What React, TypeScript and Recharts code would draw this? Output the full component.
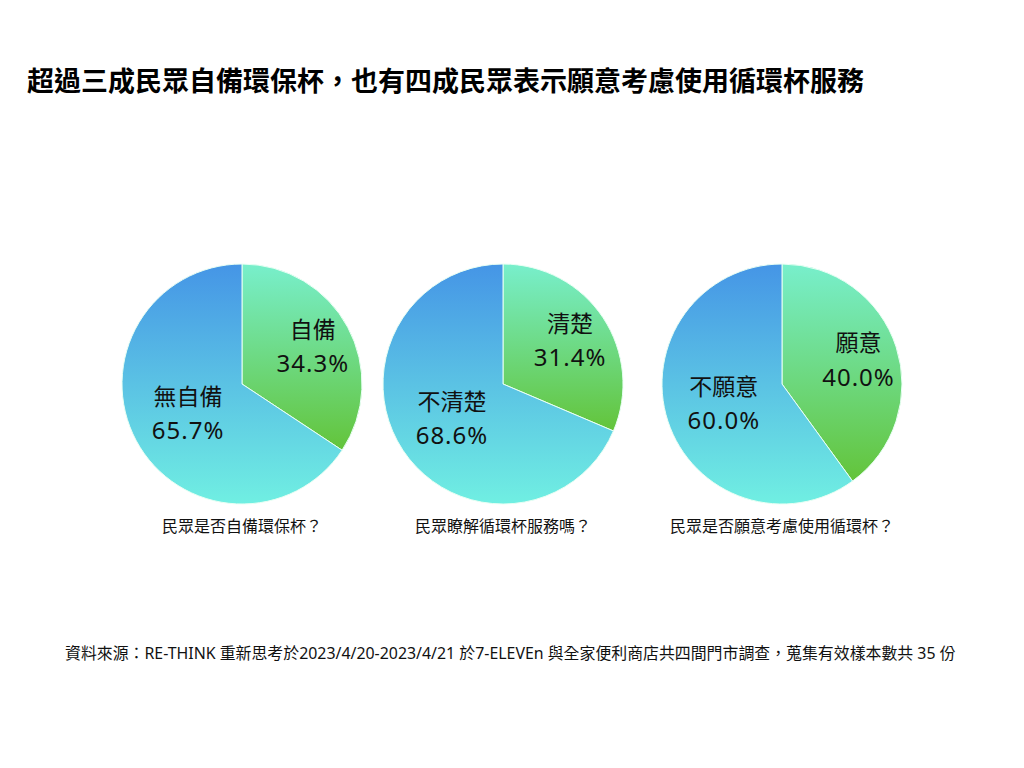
import React from 'react';
import { PieChart, Pie, Cell } from 'recharts';

const FONT = '"Noto Sans", "Noto Sans CJK TC", sans-serif';

const ownCupNames = ['自備', '無自備'];
const ownCupValues = [34.3, 65.7];

const knowNames = ['清楚', '不清楚'];
const knowValues = [31.4, 68.6];

const willingNames = ['願意', '不願意'];
const willingValues = [40.0, 60.0];

const questions = ['民眾是否自備環保杯？', '民眾瞭解循環杯服務嗎？', '民眾是否願意考慮使用循環杯？'];

const pieCenters = [242, 503, 782];

const toRows = (names: string[], values: number[]) =>
  names.map((name, i) => ({ name, value: values[i] }));

const pies = [
  toRows(ownCupNames, ownCupValues),
  toRows(knowNames, knowValues),
  toRows(willingNames, willingValues),
];

const RADIAN = Math.PI / 180;

const renderLabel = (props: any) => {
  const { cx, cy, midAngle, outerRadius, index, name, value } = props;
  // green slice label sits further out than the big blue slice label
  const r = outerRadius * (index === 0 ? 0.67 : 0.51);
  const x = cx + r * Math.cos(-midAngle * RADIAN);
  const y = cy + r * Math.sin(-midAngle * RADIAN);
  return (
    <text
      x={x}
      y={y}
      textAnchor='middle'
      fill='#111'
      style={{ fontSize: 23, fontFamily: FONT }}
    >
      <tspan x={x} y={y - 17} dominantBaseline='central'>
        {name}
      </tspan>
      <tspan
        x={x}
        y={y + 17}
        dominantBaseline='central'
        style={{ fontSize: 24, letterSpacing: 1 }}
      >
        {value.toFixed(1)}%
      </tspan>
    </text>
  );
};

const App = () => {
  return (
    <div
      style={{
        position: 'absolute',
        left: 0,
        top: 0,
        width: 1024,
        height: 768,
        background: '#fff',
        fontFamily: FONT,
      }}
    >
      <div
        style={{
          position: 'absolute',
          left: 27,
          top: 60,
          fontSize: 27,
          fontWeight: 700,
          color: '#000',
          fontFamily: '"Noto Sans CJK TC", sans-serif',
          whiteSpace: 'nowrap',
        }}
      >
        超過三成民眾自備環保杯，也有四成民眾表示願意考慮使用循環杯服務
      </div>

      <div style={{ position: 'absolute', left: 0, top: 0 }}>
        <PieChart
          width={1024}
          height={768}
          margin={{ top: 0, right: 0, bottom: 0, left: 0 }}
        >
          <defs>
            <linearGradient id='gYes' x1='0' y1='0' x2='0' y2='1'>
              <stop offset='0%' stopColor='#78efcc' />
              <stop offset='100%' stopColor='#63c43a' />
            </linearGradient>
            <linearGradient id='gNo' x1='0' y1='0' x2='0' y2='1'>
              <stop offset='0%' stopColor='#4595e6' />
              <stop offset='100%' stopColor='#70efe2' />
            </linearGradient>
          </defs>
          {pies.map((rows, p) => (
            <Pie
              key={p}
              data={rows}
              dataKey='value'
              nameKey='name'
              cx={pieCenters[p]}
              cy={384}
              outerRadius={120}
              startAngle={90}
              endAngle={-270}
              stroke='#e8fff4'
              strokeWidth={1}
              label={renderLabel}
              labelLine={false}
              isAnimationActive={false}
            >
              {rows.map((r, i) => (
                <Cell key={r.name} fill={i === 0 ? 'url(#gYes)' : 'url(#gNo)'} />
              ))}
            </Pie>
          ))}
        </PieChart>
      </div>

      {questions.map((q, i) => (
        <div
          key={q}
          style={{
            position: 'absolute',
            left: pieCenters[i] - 150,
            width: 300,
            top: 513,
            textAlign: 'center',
            fontSize: 16,
            color: '#111',
            fontFamily: '"Noto Sans CJK TC", sans-serif',
          }}
        >
          {q}
        </div>
      ))}

      <div
        style={{
          position: 'absolute',
          left: 65,
          top: 641,
          fontSize: 15.9,
          color: '#111',
          whiteSpace: 'nowrap',
          fontFamily: FONT,
        }}
      >
        資料來源：RE-THINK 重新思考於2023/4/20-2023/4/21 於7-ELEVEn 與全家便利商店共四間門市調查，蒐集有效樣本數共 35 份
      </div>
    </div>
  );
};

export default App;
